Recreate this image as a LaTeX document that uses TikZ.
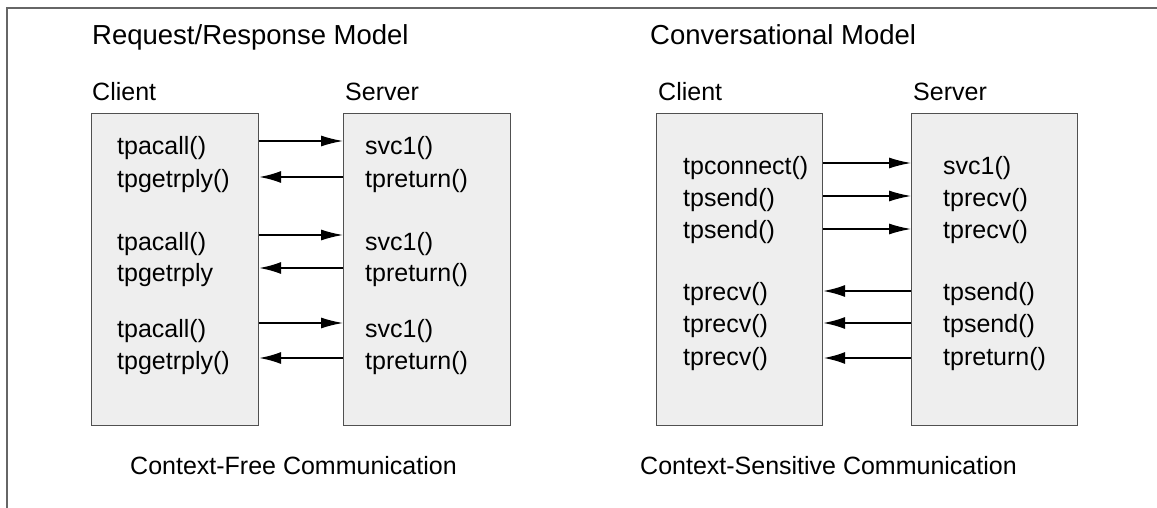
\documentclass[tikz,border=0pt]{standalone}
\usepackage{fontspec}
\setmainfont{Liberation Sans}
\usetikzlibrary{arrows.meta}
\definecolor{boxfill}{HTML}{EEEEEE}
\definecolor{boxline}{HTML}{505050}
\definecolor{framecol}{HTML}{666666}
\begin{document}
\begin{tikzpicture}[x=1pt,y=-1pt,
  box/.style={draw=boxline, fill=boxfill, line width=1pt, anchor=north west,
    inner sep=0pt, minimum width=167pt, minimum height=312pt},
  heading/.style={anchor=base west, inner sep=0pt, font=\fontsize{27.5}{32}\selectfont},
  label/.style={anchor=base west, inner sep=0pt, font=\fontsize{25}{30}\selectfont},
  item/.style={anchor=base west, inner sep=0pt, font=\fontsize{25}{30}\selectfont},
  req/.style={line width=1.4pt, -{Latex[length=22pt,width=11pt]}},
  rep/.style={line width=2.2pt, -{Latex[length=22pt,width=12pt]}},
  repthick/.style={line width=2.8pt, -{Latex[length=22pt,width=12pt]}}]
\useasboundingbox (0,0) rectangle (1157,508);

% outer frame (top and left edges)
\coordinate (fTL) at (7,8);
\coordinate (fTR) at (1157,8);
\coordinate (fBL) at (7,508);
\draw[framecol, line width=1.5pt] (fBL) -- (fTL) -- (fTR);

% ---------- Request/Response model ----------
\node[heading] (t1) at (92,45) {Request/Response Model};
\node[label] (c1) at (92,101) {Client};
\node[label] (s1) at (345,101) {Server};

\node[box] (lc) at (91,113) {};
\node[box] (ls) at (343,113) {};

\node[item] (lc1) at (117,155) {tpacall()};
\node[item] (lc2) at (117,187) {tpgetrply()};
\node[item] (lc3) at (117,250) {tpacall()};
\node[item] (lc4) at (117,281) {tpgetrply};
\node[item] (lc5) at (117,337) {tpacall()};
\node[item] (lc6) at (117,369) {tpgetrply()};

\node[item] (ls1) at (365,155) {svc1()};
\node[item] (ls2) at (365,187) {tpreturn()};
\node[item] (ls3) at (365,250) {svc1()};
\node[item] (ls4) at (365,281) {tpreturn()};
\node[item] (ls5) at (365,337) {svc1()};
\node[item] (ls6) at (365,369) {tpreturn()};

\draw[req] (lc.east |- 0,141) -- (ls.west |- 0,141);
\draw[rep] (ls.west |- 0,177) -- (lc.east |- 0,177);
\draw[req] (lc.east |- 0,235) -- (ls.west |- 0,235);
\draw[rep] (ls.west |- 0,268) -- (lc.east |- 0,268);
\draw[req] (lc.east |- 0,323) -- (ls.west |- 0,323);
\draw[rep] (ls.west |- 0,358) -- (lc.east |- 0,358);

\node[label] (b1) at (130,474) {Context-Free Communication};

% ---------- Conversational model ----------
\node[heading] (t2) at (650,45) {Conversational Model};
\node[label] (c2) at (658,101) {Client};
\node[label] (s2) at (913,101) {Server};

\node[box, minimum width=166pt] (rc) at (656,113) {};
\node[box, minimum width=166pt] (rs) at (911,113) {};

\node[item] (rc1) at (683,175) {tpconnect()};
\node[item] (rc2) at (683,207) {tpsend()};
\node[item] (rc3) at (683,238) {tpsend()};
\node[item] (rc4) at (683,300) {tprecv()};
\node[item] (rc5) at (683,332) {tprecv()};
\node[item] (rc6) at (683,365) {tprecv()};

\node[item] (rs1) at (943,175) {svc1()};
\node[item] (rs2) at (943,207) {tprecv()};
\node[item] (rs3) at (943,238) {tprecv()};
\node[item] (rs4) at (943,300) {tpsend()};
\node[item] (rs5) at (943,332) {tpsend()};
\node[item] (rs6) at (943,365) {tpreturn()};

\draw[req] (rc.east |- 0,163) -- (rs.west |- 0,163);
\draw[req] (rc.east |- 0,196) -- (rs.west |- 0,196);
\draw[req] (rc.east |- 0,229) -- (rs.west |- 0,229);
\draw[rep] (rs.west |- 0,291) -- (rc.east |- 0,291);
\draw[rep] (rs.west |- 0,323) -- (rc.east |- 0,323);
\draw[repthick] (rs.west |- 0,358) -- (rc.east |- 0,358);

\node[label] (b2) at (640,474) {Context-Sensitive Communication};
\end{tikzpicture}
\end{document}
